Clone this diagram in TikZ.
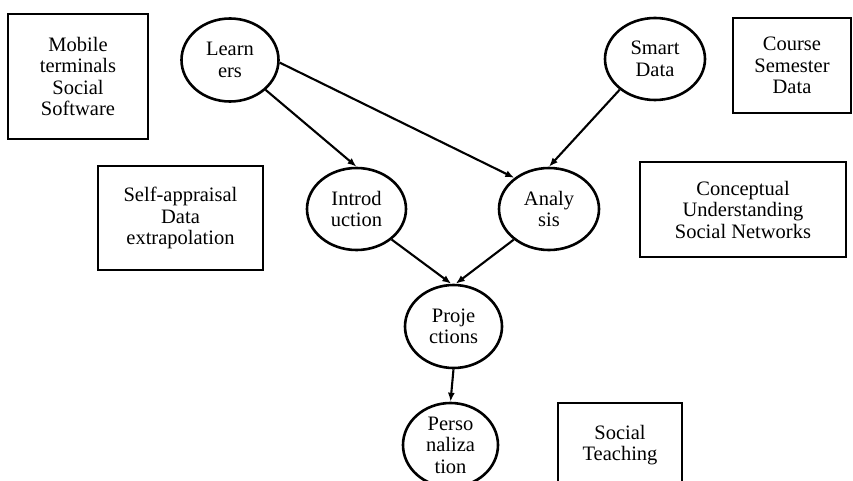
\documentclass[tikz,border=0pt]{standalone}
\usepackage{fontspec}
\setmainfont{Liberation Serif}
\usetikzlibrary{shapes.geometric,arrows.meta}

\tikzset{
  every node/.style={font=\fontsize{20.5}{21.5}\selectfont, align=center, text=black},
  infobox/.style={draw, line width=2.6pt, rectangle, inner sep=0pt},
  stage/.style={draw, line width=2.6pt, ellipse, inner sep=0pt},
  flow/.style={line width=2.1pt, -{Latex[length=9pt,width=7pt]}}
}

\begin{document}
\begin{tikzpicture}[x=1pt,y=-1pt]
  \useasboundingbox (0,0) rectangle (853,481);
  \clip (0,0) rectangle (853,481);

  % side boxes
  \node[infobox, minimum width=140pt, minimum height=125pt] (mobile) at (78,76.5)
    {Mobile\\terminals\\Social\\Software};
  \node[infobox, minimum width=118pt, minimum height=95pt] (course) at (792,65.5)
    {Course\\Semester\\Data};
  \node[infobox, minimum width=165pt, minimum height=104pt] (selfapp) at (180.5,218)
    {Self-appraisal\\Data\\extrapolation};
  \node[infobox, minimum width=206pt, minimum height=95pt] (concept) at (743,209.5)
    {Conceptual\\Understanding\\Social Networks};
  \node[infobox, minimum width=124pt, minimum height=84pt] (social) at (620,445)
    {Social\\Teaching};

  % process stages
  \node[stage, minimum width=97pt, minimum height=83pt] (learn) at (230,60) {Learn\\ers};
  \node[stage, minimum width=100pt, minimum height=82pt] (smart) at (655,59) {Smart\\Data};
  \node[stage, minimum width=99pt, minimum height=82pt] (intro) at (356.5,209) {Introd\\uction};
  \node[stage, minimum width=100pt, minimum height=82pt] (ana) at (549,209) {Analy\\sis};
  \node[stage, minimum width=97pt, minimum height=83pt] (proj) at (453.5,326.5) {Proje\\ctions};
  \node[stage, minimum width=95pt, minimum height=84pt] (perso) at (450.5,445) {Perso\\naliza\\tion};

  % connectors
  \draw[flow] (learn.-40) -- (intro.north);
  \draw[flow] (learn.-3) -- (ana.138);
  \draw[flow] (smart.-139) -- (ana.north);
  \draw[flow] (intro.-41) -- (proj.93);
  \draw[flow] (ana.-139) -- (proj.87);
  \draw[flow] (proj.south) -- (perso.north);
\end{tikzpicture}
\end{document}
